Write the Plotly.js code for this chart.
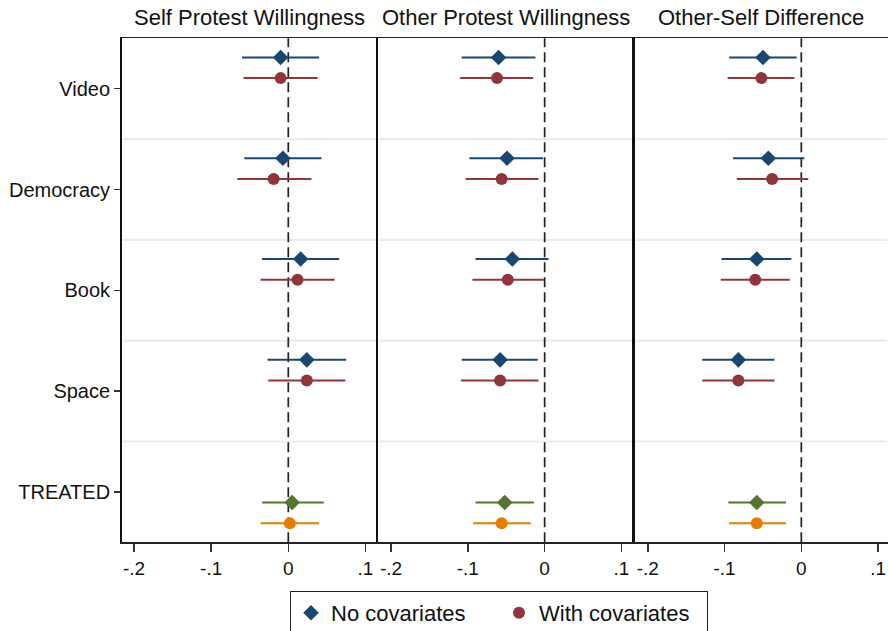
<!DOCTYPE html>
<html>
<head>
<meta charset="utf-8">
<script src="https://cdn.plot.ly/plotly-3.0.1.min.js"></script>
<style>html,body{margin:0;padding:0;background:#fff;}#chart{width:888px;height:631px;}</style>
</head>
<body>
<div id="chart"></div>
<script>
// ---------- DATA ----------
const categories = ["Video", "Democracy", "Book", "Space", "TREATED"];
const panelTitles = ["Self Protest Willingness", "Other Protest Willingness", "Other-Self Difference"];
const tickValues = [-0.2, -0.1, 0, 0.1];
const tickLabels = ["-.2", "-.1", "0", ".1"];
const legendNames = ["No covariates", "With covariates"];

// Self Protest Willingness
const selfNoCov   = [-0.010, -0.007,  0.016,  0.024,  0.005];
const selfNoCovLo = [-0.060, -0.057, -0.034, -0.027, -0.034];
const selfNoCovHi = [ 0.040,  0.043,  0.066,  0.075,  0.046];
const selfCov     = [-0.010, -0.019,  0.012,  0.024,  0.002];
const selfCovLo   = [-0.058, -0.066, -0.036, -0.026, -0.036];
const selfCovHi   = [ 0.038,  0.030,  0.060,  0.074,  0.040];

// Other Protest Willingness
const otherNoCov   = [-0.060, -0.049, -0.042, -0.058, -0.052];
const otherNoCovLo = [-0.108, -0.098, -0.090, -0.108, -0.090];
const otherNoCovHi = [-0.012, -0.002,  0.005, -0.009, -0.014];
const otherCov     = [-0.062, -0.056, -0.048, -0.058, -0.056];
const otherCovLo   = [-0.110, -0.103, -0.094, -0.109, -0.093];
const otherCovHi   = [-0.015, -0.008, -0.001, -0.008, -0.018];

// Other-Self Difference
const diffNoCov   = [-0.050, -0.043, -0.058, -0.082, -0.058];
const diffNoCovLo = [-0.094, -0.089, -0.104, -0.129, -0.095];
const diffNoCovHi = [-0.006,  0.004, -0.013, -0.035, -0.020];
const diffCov     = [-0.052, -0.038, -0.060, -0.082, -0.058];
const diffCovLo   = [-0.096, -0.084, -0.105, -0.129, -0.094];
const diffCovHi   = [-0.009,  0.009, -0.015, -0.035, -0.020];

// ---------- STYLE ----------
const NAVY = "#1a476f", MAROON = "#90353b", GREEN = "#55752f", ORANGE = "#e37e00";
const FONT = "Arial, 'Liberation Sans', sans-serif";
const W = 888, H = 631;
const plotTop = 38.3, plotBottom = 542.3;
const xEdges = [121.7, 378, 634.5, 888];
const xRanges = [[-0.216, 0.1163], [-0.217, 0.117], [-0.2173, 0.1129]];

const panels = [
  {nc: selfNoCov, ncLo: selfNoCovLo, ncHi: selfNoCovHi, c: selfCov, cLo: selfCovLo, cHi: selfCovHi},
  {nc: otherNoCov, ncLo: otherNoCovLo, ncHi: otherNoCovHi, c: otherCov, cLo: otherCovLo, cHi: otherCovHi},
  {nc: diffNoCov, ncLo: diffNoCovLo, ncHi: diffNoCovHi, c: diffCov, cLo: diffCovLo, cHi: diffCovHi}
];

const nCat = categories.length;
const center = i => nCat - 1 - i;
const mainIdx = [0, 1, 2, 3];
const treatIdx = [4];

function mk(vals, lo, hi, idx, offset, color, symbol, size, axisNum, name, showLegend) {
  const sfx = axisNum === 1 ? "" : String(axisNum);
  return {
    type: "scatter", mode: "markers",
    x: idx.map(i => vals[i]),
    y: idx.map(i => center(i) + offset),
    xaxis: "x" + sfx, yaxis: "y" + sfx,
    name: name, showlegend: showLegend, legendgroup: name,
    marker: {color: color, symbol: symbol, size: size, line: {width: 0}},
    error_x: {
      type: "data", symmetric: false,
      array: idx.map(i => hi[i] - vals[i]),
      arrayminus: idx.map(i => vals[i] - lo[i]),
      width: 0, thickness: 2, color: color
    },
    hoverinfo: "x+y"
  };
}

const traces = [];
panels.forEach((p, k) => {
  const a = k + 1;
  traces.push(mk(p.nc, p.ncLo, p.ncHi, mainIdx, 0.31, NAVY, "diamond", 12, a, legendNames[0], k === 0));
  traces.push(mk(p.c, p.cLo, p.cHi, mainIdx, 0.105, MAROON, "circle", 12, a, legendNames[1], k === 0));
  traces.push(mk(p.nc, p.ncLo, p.ncHi, treatIdx, -0.105, GREEN, "diamond", 12, a, "TREATED no cov", false));
  traces.push(mk(p.c, p.cLo, p.cHi, treatIdx, -0.31, ORANGE, "circle", 12, a, "TREATED cov", false));
});

const yDomain = [1 - plotBottom / H, 1 - plotTop / H];
const layout = {
  width: W, height: H,
  margin: {l: 0, r: 0, t: 0, b: 0, pad: 0, autoexpand: false},
  paper_bgcolor: "#fff", plot_bgcolor: "#fff",
  font: {family: FONT, size: 19, color: "#111"},
  showlegend: true,
  legend: {
    orientation: "h", x: 290 / W, y: 1 - 591 / H, xanchor: "left", yanchor: "top",
    bordercolor: "#222", borderwidth: 1, bgcolor: "#fff",
    font: {family: FONT, size: 22, color: "#111"},
    entrywidth: 163, entrywidthmode: "pixels", traceorder: "normal"
  },
  shapes: [],
  annotations: []
};

for (let k = 0; k < 3; k++) {
  const sfx = k === 0 ? "" : String(k + 1);
  layout["xaxis" + sfx] = {
    domain: [xEdges[k] / W, xEdges[k + 1] / W],
    range: xRanges[k], anchor: "y" + sfx,
    tickmode: "array", tickvals: tickValues, ticktext: tickLabels,
    ticks: "outside", ticklen: 8, tickwidth: 1.5, tickcolor: "#333",
    tickfont: {family: FONT, size: 19, color: "#111"},
    showgrid: false, zeroline: false,
    showline: true, linecolor: "#222", linewidth: 1.6, mirror: true,
    fixedrange: true
  };
  layout["yaxis" + sfx] = {
    domain: yDomain, range: [-0.5, nCat - 0.5], anchor: "x" + sfx,
    tickmode: "array",
    tickvals: categories.map((c, i) => center(i)),
    ticktext: categories,
    showticklabels: k === 0,
    ticks: k === 0 ? "outside" : "", ticklen: 6, tickwidth: 1.5, tickcolor: "#333",
    tickfont: {family: FONT, size: 20, color: "#111"},
    showgrid: false, zeroline: false,
    showline: true, linecolor: "#111", linewidth: k === 0 ? 1.6 : 2.2, mirror: false,
    fixedrange: true
  };
  // row separators
  for (let j = 0; j < nCat - 1; j++) {
    layout.shapes.push({
      type: "line", xref: "x" + sfx + " domain", yref: "y" + sfx,
      x0: 0.004, x1: 0.996, y0: j + 0.5, y1: j + 0.5,
      line: {color: "#e6eef1", width: 2.2}, layer: "below"
    });
  }
  // zero reference line
  layout.shapes.push({
    type: "line", xref: "x" + sfx, yref: "y" + sfx + " domain",
    x0: 0, x1: 0, y0: 0, y1: 1,
    line: {color: "#222", width: 1.7, dash: "10px,5px"}, layer: "below"
  });
  // panel title
  layout.annotations.push({
    xref: "x" + sfx + " domain", yref: "paper",
    x: 0.5, y: 1 - 18 / H, xanchor: "center", yanchor: "middle",
    text: panelTitles[k], showarrow: false,
    font: {family: FONT, size: 22, color: "#111"}
  });
}

Plotly.newPlot("chart", traces, layout, {displayModeBar: false, staticPlot: true});
</script>
</body>
</html>
